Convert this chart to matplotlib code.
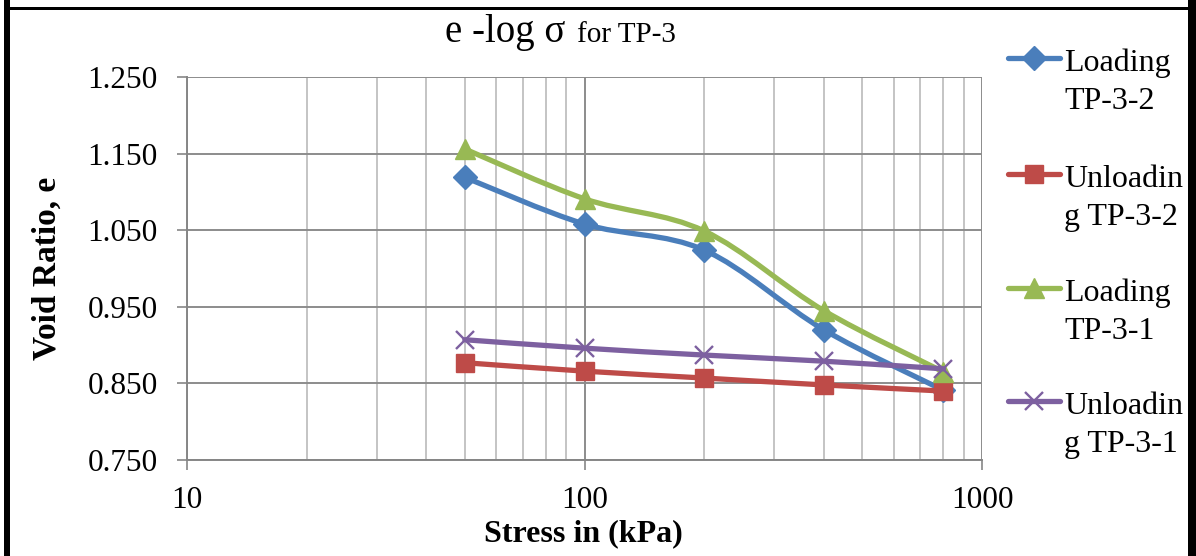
import numpy as np
import matplotlib.pyplot as plt
from matplotlib.path import Path
from matplotlib.patches import PathPatch, Rectangle
from matplotlib.lines import Line2D
from matplotlib.ticker import LogLocator, NullFormatter, FixedLocator

plt.rcParams['font.family'] = ['Liberation Serif', 'DejaVu Serif']

# Data
stress = [50, 100, 200, 400, 800]
loading_2 = [1.119, 1.058, 1.024, 0.920, 0.841]
unloading_2 = [0.877, 0.866, 0.857, 0.848, 0.840]
loading_1 = [1.156, 1.091, 1.049, 0.945, 0.865]
unloading_1 = [0.907, 0.896, 0.887, 0.879, 0.869]

labels = ['Loading\nTP-3-2', 'Unloadin\ng TP-3-2', 'Loading\nTP-3-1', 'Unloadin\ng TP-3-1']
colors = ['#4A7EBB', '#BE4B48', '#98B954', '#7D60A0']
markers = ['D', 's', '^', 'x']
msizes = [12.5, 13, 15, 13]
series = [loading_2, unloading_2, loading_1, unloading_1]

W, H = 1196, 556
fig = plt.figure(figsize=(W / 100, H / 100), dpi=100)
fig.patch.set_facecolor('white')

def fx(px):
    return px / W

def fy(py):
    return 1 - py / H

ax = fig.add_axes([fx(187), fy(460), fx(982) - fx(187), fy(77) - fy(460)])
ax.set_xscale('log')
ax.set_xlim(10, 1000)
ax.set_ylim(0.75, 1.25)


def smooth_path(x, y):
    # Catmull-Rom style bezier in log10(x) space (like spreadsheet "smoothed line")
    lx = np.log10(np.asarray(x, float))
    yy = np.asarray(y, float)
    n = len(lx)
    verts = [(lx[0], yy[0])]
    codes = [Path.MOVETO]
    for i in range(n - 1):
        p0 = max(i - 1, 0)
        p3 = min(i + 2, n - 1)
        c1 = (lx[i] + (lx[i + 1] - lx[p0]) / 6, yy[i] + (yy[i + 1] - yy[p0]) / 6)
        c2 = (lx[i + 1] - (lx[p3] - lx[i]) / 6, yy[i + 1] - (yy[p3] - yy[i]) / 6)
        verts += [c1, c2, (lx[i + 1], yy[i + 1])]
        codes += [Path.CURVE4] * 3
    verts = [(10 ** vx, vy) for vx, vy in verts]
    return Path(verts, codes)


LW = 3.8
for k, (vals, c, m, ms) in enumerate(zip(series, colors, markers, msizes)):
    patch = PathPatch(smooth_path(stress, vals), fill=False, edgecolor=c,
                      lw=LW, capstyle='round', joinstyle='round', zorder=3 + k)
    ax.add_patch(patch)
    if m == 'x':
        ax.plot(stress, vals, ls='none', marker=m, ms=ms, mew=1.7, color=c, zorder=3 + k)
    else:
        ax.plot(stress, vals, ls='none', marker=m, ms=ms, mec=c, mfc=c, zorder=3 + k)

# Grid and axes styling
ax.set_yticks([0.75, 0.85, 0.95, 1.05, 1.15, 1.25])
ax.set_yticklabels(['0.750', '0.850', '0.950', '1.050', '1.150', '1.250'])
ax.xaxis.set_major_locator(FixedLocator([10, 100, 1000]))
ax.set_xticklabels(['10', '100', '1000'])
ax.xaxis.set_minor_locator(LogLocator(base=10, subs=np.arange(2, 10)))
ax.xaxis.set_minor_formatter(NullFormatter())

ax.grid(True, which='major', axis='both', color='#8c8c8c', lw=1.4)
ax.grid(True, which='minor', axis='x', color='#c4c4c4', lw=1.4)
ax.set_axisbelow(True)

for s in ['top', 'right']:
    ax.spines[s].set_visible(False)
for s in ['left', 'bottom']:
    ax.spines[s].set_color('#868686')
    ax.spines[s].set_linewidth(1.4)

ax.tick_params(axis='both', which='major', direction='out', length=7,
               width=1.2, color='#868686', labelsize=22.5, labelcolor='black')
ax.tick_params(axis='y', pad=14)
ax.tick_params(axis='x', pad=12)
ax.tick_params(axis='x', which='minor', length=0)

ax.set_xlabel('Stress in (kPa)', fontsize=23, fontweight='bold')
ax.set_ylabel('Void Ratio, e', fontsize=24, fontweight='bold')
ax.xaxis.set_label_coords((583 - 187) / (982 - 187), -(534 - 460) / (460 - 77))
ax.yaxis.set_label_coords(-(187 - 47) / (982 - 187), (460 - 268) / (460 - 77))
ax.xaxis.label.set_va('center')
ax.yaxis.label.set_va('center')

# Title in two sizes
fig.text(fx(445), fy(42), 'e -log σ', fontsize=28, va='baseline', ha='left')
fig.text(fx(577), fy(42), 'for TP-3', fontsize=21, va='baseline', ha='left')

# Legend drawn on the right
leg_y = [58, 174, 288, 401]
for lab, c, m, ms, yy in zip(labels, colors, markers, msizes, leg_y):
    fig.add_artist(Line2D([fx(1008), fx(1060)], [fy(yy), fy(yy)], transform=fig.transFigure,
                          color=c, lw=LW, solid_capstyle='round'))
    if m == 'x':
        fig.add_artist(Line2D([fx(1034)], [fy(yy)], transform=fig.transFigure, ls='none',
                              marker=m, ms=ms, mew=1.7, color=c))
    else:
        fig.add_artist(Line2D([fx(1034)], [fy(yy)], transform=fig.transFigure, ls='none',
                              marker=m, ms=ms, mec=c, mfc=c))
    fig.text(fx(1064), fy(yy - 9), lab, fontsize=23, va='top', ha='left',
             linespacing=1.4)

# Outer chart frame
fig.add_artist(Rectangle((fx(4), 0), fx(6), 1, transform=fig.transFigure, color='black', lw=0))
fig.add_artist(Rectangle((fx(4), fy(10)), 1, fy(7) - fy(10), transform=fig.transFigure, color='black', lw=0))
fig.add_artist(Rectangle((fx(1188), 0), fx(10), 1, transform=fig.transFigure, color='black', lw=0))

fig.savefig('out.png', dpi=100)
